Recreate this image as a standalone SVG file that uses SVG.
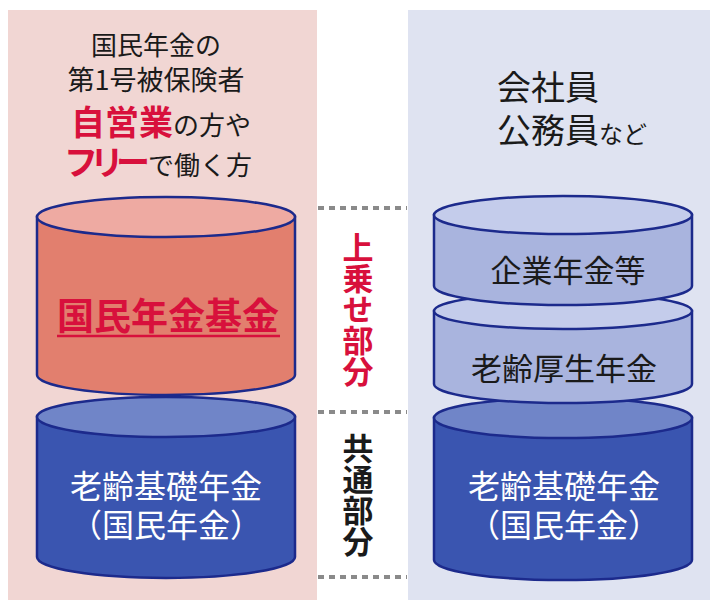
<svg xmlns="http://www.w3.org/2000/svg" width="710" height="600" viewBox="0 0 710 600">
<style>
.cyl{stroke:#1c2a8c;stroke-width:2.5}
.jp{font-family:"Noto Sans CJK JP","Noto Sans",sans-serif}
.blk{fill:#1a1a1a}
.red{fill:#d8103c;font-weight:bold}
.wht{fill:#ffffff}
.dash{stroke:#8a8a8a;stroke-width:4;stroke-dasharray:6,5;fill:none}
.vert{writing-mode:vertical-rl;text-orientation:upright}
</style>
<rect x="0" y="0" width="710" height="600" fill="#ffffff"/>
<rect x="8" y="10" width="309" height="590" fill="#f1d6d3"/>
<rect x="408" y="10" width="302" height="590" fill="#dfe3f1"/>

<g id="left-header" class="jp" text-anchor="middle">
  <text x="156" y="55" font-size="26" class="blk">国民年金の</text>
  <text x="156" y="90" font-size="27" class="blk">第1号被保険者</text>
  <text x="161" y="135" font-size="26" class="blk"><tspan font-size="34" fill="#d8103c" font-weight="bold">自営業</tspan>の方や</text>
  <text x="158" y="175" font-size="26" class="blk"><tspan font-size="34" fill="#d8103c" font-weight="bold" letter-spacing="-8">フリー</tspan><tspan dx="6">で働く方</tspan></text>
</g>

<g id="right-header" class="jp">
  <text x="497" y="100" font-size="34" class="blk">会社員</text>
  <text x="497" y="143" font-size="34" class="blk">公務員<tspan font-size="24">など</tspan></text>
</g>

<g id="left-basic">
  <path class="cyl" fill="#3a55b0" d="M37,417 L37,557 A129,21 0 0 0 295,557 L295,417 Z"/>
  <ellipse class="cyl" cx="166" cy="417" rx="129" ry="20" fill="#7085c8"/>
  <text class="jp wht" x="166" y="498" font-size="32" text-anchor="middle">老齢基礎年金</text>
  <text class="jp wht" x="166" y="537" font-size="32" text-anchor="middle">（国民年金）</text>
</g>

<g id="left-fund">
  <path class="cyl" fill="#e27f6e" d="M37,217 L37,375 A129,20 0 0 0 295,375 L295,217 Z"/>
  <ellipse class="cyl" cx="166" cy="217" rx="129" ry="20" fill="#eeaaa2"/>
  <text class="jp red" x="168" y="330" font-size="37" text-anchor="middle">国民年金基金</text>
  <line x1="57" y1="336" x2="280" y2="336" stroke="#d8103c" stroke-width="2.5"/>
</g>

<g id="right-basic">
  <path class="cyl" fill="#3a55b0" d="M434,418 L434,560 A129,20 0 0 0 692,560 L692,418 Z"/>
  <ellipse class="cyl" cx="563" cy="418" rx="129" ry="20" fill="#7085c8"/>
  <text class="jp wht" x="564" y="498" font-size="32" text-anchor="middle">老齢基礎年金</text>
  <text class="jp wht" x="564" y="537" font-size="32" text-anchor="middle">（国民年金）</text>
</g>

<g id="right-kosei">
  <path class="cyl" fill="#a9b4de" d="M434,311 L434,384 A129,19 0 0 0 692,384 L692,311 Z"/>
  <ellipse class="cyl" cx="563" cy="311" rx="129" ry="18" fill="#c4cceb"/>
  <text class="jp blk" x="564" y="380" font-size="31" text-anchor="middle">老齢厚生年金</text>
</g>

<g id="right-kigyo">
  <path class="cyl" fill="#a9b4de" d="M434,215 L434,286 A129,19 0 0 0 692,286 L692,215 Z"/>
  <ellipse class="cyl" cx="563" cy="215" rx="129" ry="19" fill="#c4cceb"/>
  <text class="jp blk" x="568" y="282" font-size="31" text-anchor="middle">企業年金等</text>
</g>

<g id="connectors">
  <line class="dash" x1="318" y1="208" x2="407" y2="208"/>
  <line class="dash" x1="318" y1="412" x2="407" y2="412"/>
  <line class="dash" x1="318" y1="577" x2="407" y2="577"/>
</g>

<g id="upper-label">
  <text class="jp red vert" x="358" y="232" font-size="31">上乗せ部分</text>
</g>

<g id="common-label">
  <text class="jp blk vert" x="358" y="433" font-size="31" font-weight="bold">共通部分</text>
</g>
</svg>
